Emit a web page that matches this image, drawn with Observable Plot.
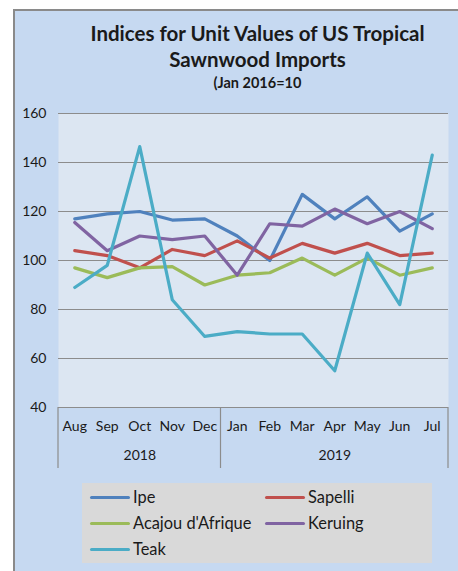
<!DOCTYPE html>
<html>
<head>
<meta charset="utf-8">
<script src="https://cdn.jsdelivr.net/npm/d3@7"></script>
<script src="https://cdn.jsdelivr.net/npm/@observablehq/plot@0.6"></script>
<style>
  html, body { margin: 0; padding: 0; background: #ffffff; }
  #wrap { position: relative; width: 458px; height: 571px; overflow: hidden; font-family: Lato, "Open Sans", sans-serif; color: #1a1a1a; }
  #panel { position: absolute; left: 13px; top: 9px; width: 445px; height: 562px; background: #c6d9f1; border-left: 2px solid #8a8a8a; border-top: 2px solid #8a8a8a; box-sizing: border-box; }
  .title { position: absolute; left: 60px; width: 395px; text-align: center; font-weight: bold; white-space: nowrap; }
  #chart { position: absolute; left: 0; top: 0; }
  #legend { position: absolute; left: 82px; top: 483px; width: 350px; height: 80px; background: #d9d9d9; }
  .item { position: absolute; height: 20px; font-size: 16.4px; line-height: 20px; white-space: nowrap; }
  .sw { position: absolute; left: 0; top: 8.5px; width: 40px; height: 3px; border-radius: 1.5px; }
  .lab { position: absolute; left: 43px; top: 0; }
</style>
</head>
<body>
<div id="wrap">
  <div id="panel"></div>
  <div id="chart"></div>
  <div class="title" style="top:20px;font-size:20.5px;line-height:26px;">Indices for Unit Values of US Tropical<br>Sawnwood Imports</div>
  <div class="title" style="top:74px;font-size:14.5px;line-height:17px;">(Jan 2016=10</div>
  <div id="legend"></div>
</div>
<script>
// ---- data ----
const months = ["Aug","Sep","Oct","Nov","Dec","Jan","Feb","Mar","Apr","May","Jun","Jul"];
const yearLabels = ["2018", "2019"];
const yearStart = [0, 5];   // first month index of each year
const yearEnd = [4, 11];    // last month index of each year
const yTicks = [40, 60, 80, 100, 120, 140, 160];

const seriesNames = ["Ipe", "Sapelli", "Acajou d'Afrique", "Keruing", "Teak"];
const seriesColors = ["#4f81bd", "#c0504d", "#9bbb59", "#8064a2", "#4bacc6"];

const ipe     = [117, 119, 120, 116.5, 117, 110, 100, 127, 117, 126, 112, 119];
const sapelli = [104, 102, 97, 104.5, 102, 108, 101, 107, 103, 107, 102, 103];
const acajou  = [97, 93, 97, 97.5, 90, 94, 95, 101, 94, 101, 94, 97];
const keruing = [115.5, 104, 110, 108.5, 110, 94, 115, 114, 121, 115, 120, 113];
const teak    = [89, 98, 146.5, 84, 69, 71, 70, 70, 55, 103, 82, 143];

const seriesValues = [ipe, sapelli, acajou, keruing, teak];

// ---- table ----
const rows = [];
seriesValues.forEach((vals, s) => vals.forEach((v, i) => rows.push({series: seriesNames[s], i, value: v})));
const monthRows = months.map((m, i) => ({i, m}));
const yearRows = yearLabels.map((y, k) => ({y, center: (yearStart[k] + yearEnd[k]) / 2}));
const separators = [yearStart[0] - 0.5, ...yearEnd.map(e => e + 0.5)];

const W = 458, H = 571;
const plot = Plot.plot({
  width: W,
  height: H,
  marginLeft: 58,
  marginRight: 10,
  marginTop: 113,
  marginBottom: 164,
  style: {background: "transparent", fontFamily: "Lato, 'Open Sans', sans-serif", fontSize: "14px", color: "#1a1a1a"},
  x: {type: "linear", domain: [-0.5, months.length - 0.5], axis: null},
  y: {domain: [40, 160], axis: null},
  color: {domain: seriesNames, range: seriesColors},
  marks: [
    Plot.frame({fill: "#dce6f2", stroke: null}),
    Plot.gridY(yTicks, {stroke: "#8c8c8c", strokeOpacity: 1, strokeWidth: 1.2}),
    Plot.axisY(yTicks, {tickSize: 0, tickPadding: 12, fontSize: 14, fill: "#1a1a1a", label: null}),
    Plot.line(rows, {x: "i", y: "value", z: "series", stroke: "series", strokeWidth: 3.2, curve: "linear"}),
    Plot.text(monthRows, {x: "i", text: "m", frameAnchor: "bottom", dy: 19.5, lineAnchor: "middle", fontSize: 14, fill: "#1a1a1a"}),
    Plot.text(yearRows, {x: "center", text: "y", frameAnchor: "bottom", dy: 48.5, lineAnchor: "middle", fontSize: 14, fill: "#1a1a1a"})
  ]
});

// separators of the category axis, positioned through the plot's own scales
const xs = plot.scale("x"), ys = plot.scale("y");
const svg = d3.select(plot);
const yBase = ys.apply(40);
svg.append("g")
  .selectAll("line")
  .data(separators)
  .join("line")
  .attr("x1", d => xs.apply(d)).attr("x2", d => xs.apply(d))
  .attr("y1", yBase).attr("y2", yBase + 61)
  .attr("stroke", "#8c8c8c").attr("stroke-width", 1.2);

document.getElementById("chart").appendChild(plot);

// legend
const legend = document.getElementById("legend");
const colX = [8, 183];
const rowY = [4, 30, 56];
seriesNames.forEach((name, k) => {
  const it = document.createElement("div");
  it.className = "item";
  it.style.left = colX[k % 2] + "px";
  it.style.top = rowY[Math.floor(k / 2)] + "px";
  const sw = document.createElement("div");
  sw.className = "sw";
  sw.style.background = seriesColors[k];
  const lab = document.createElement("div");
  lab.className = "lab";
  lab.textContent = name;
  it.appendChild(sw);
  it.appendChild(lab);
  legend.appendChild(it);
});
</script>
</body>
</html>
